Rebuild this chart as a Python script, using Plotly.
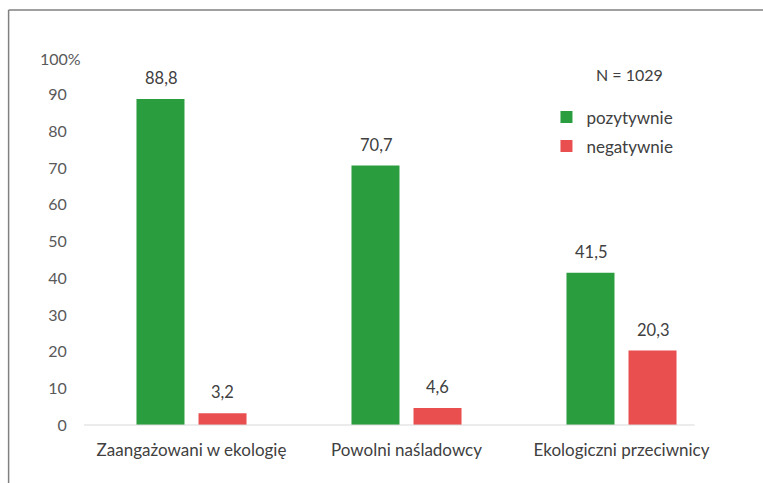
import plotly.graph_objects as go

categories = ["Zaangażowani w ekologię", "Powolni naśladowcy", "Ekologiczni przeciwnicy"]
positive = [88.8, 70.7, 41.5]
negative = [3.2, 4.6, 20.3]
series_names = ["pozytywnie", "negatywnie"]
tick_vals = [0, 10, 20, 30, 40, 50, 60, 70, 80, 90]
tick_text = ["0", "10", "20", "30", "40", "50", "60", "70", "80", "90"]
top_label = "100%"
top_value = 100
sample_note = "N = 1029"

GREEN = "#2A9E3E"
RED = "#EA4F4F"
FONT = "Lato"
TEXT_COLOR = "#404040"
TICK_COLOR = "#595959"

fig = go.Figure()
for name, vals, color in [(series_names[0], positive, GREEN), (series_names[1], negative, RED)]:
    fig.add_trace(go.Bar(
        x=categories, y=vals, name=name, marker_color=color,
        marker_line_width=0, legendgroup=name,
    ))

def fmt(v):
    return f"{v:.1f}".replace(".", ",")

# value labels above each bar (left bar / right bar of a group)
for i, cat in enumerate(categories):
    for j, vals in enumerate([positive, negative]):
        fig.add_annotation(
            x=i, y=vals[i], xref="x", yref="y",
            text=fmt(vals[i]), showarrow=False,
            xshift=(-31 if j == 0 else 31), yshift=21, yanchor="middle",
            font=dict(family=FONT, size=16.5, color=TEXT_COLOR),
        )

# top of the value axis carries the unit
fig.add_annotation(
    x=-0.071, y=top_value, xref="paper", yref="y", text=top_label,
    showarrow=False, xanchor="left", yanchor="middle",
    font=dict(family=FONT, size=16, color=TICK_COLOR),
)

fig.add_annotation(
    x=0.845, y=0.955, xref="paper", yref="paper", text=sample_note,
    showarrow=False, xanchor="center", yanchor="middle",
    font=dict(family=FONT, size=16, color=TEXT_COLOR),
)

# zero line and frame lines
fig.add_shape(type="line", xref="paper", yref="paper", x0=0, x1=0.9466, y0=0, y1=0,
              line=dict(color="#D9D9D9", width=1))
fig.add_shape(type="line", xref="paper", yref="paper", x0=-0.1169, x1=1.06, y0=1.1308, y1=1.1308,
              line=dict(color="#808080", width=1.5))
fig.add_shape(type="line", xref="paper", yref="paper", x0=-0.1169, x1=-0.1169, y0=1.1308, y1=-0.2,
              line=dict(color="#808080", width=1.5))

fig.update_layout(
    width=763, height=483,
    margin=dict(l=83.5, r=33.5, t=58, b=58),
    paper_bgcolor="white", plot_bgcolor="white",
    barmode="group", bargap=0.423, bargroupgap=0.226,
    font=dict(family=FONT, size=16, color=TEXT_COLOR),
    showlegend=True,
    legend=dict(
        x=0.717, y=0.887, xanchor="left", yanchor="top",
        font=dict(family=FONT, size=17, color=TEXT_COLOR),
        tracegroupgap=4, bgcolor="rgba(0,0,0,0)",
    ),
    xaxis=dict(
        showgrid=False, zeroline=False, showline=False,
        ticks="outside", ticklen=10, tickcolor="rgba(0,0,0,0)",
        tickfont=dict(family=FONT, size=17, color=TEXT_COLOR),
    ),
    yaxis=dict(
        range=[0, 100], tickvals=tick_vals, ticktext=tick_text,
        showgrid=False, zeroline=False, showline=False,
        ticks="outside", ticklen=13, tickcolor="rgba(0,0,0,0)",
        tickfont=dict(family=FONT, size=16, color=TICK_COLOR),
    ),
)

fig.write_html("out.html")
